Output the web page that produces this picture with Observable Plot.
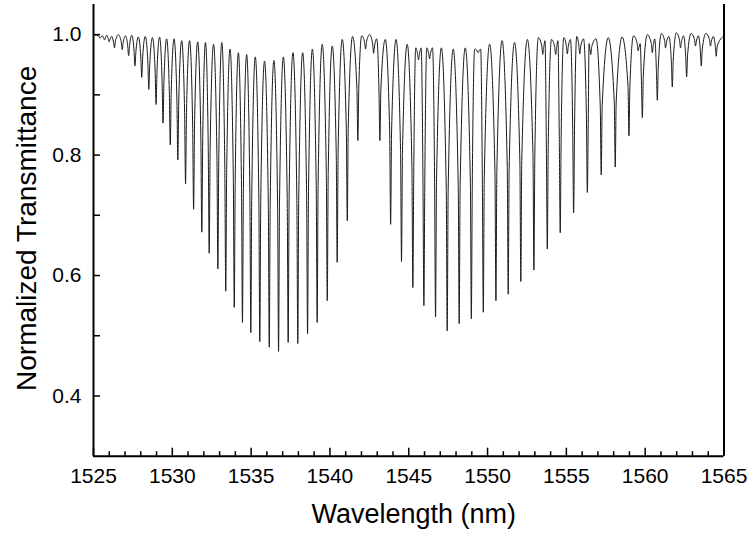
<!DOCTYPE html>
<html><head><meta charset="utf-8">
<script src="https://cdn.jsdelivr.net/npm/d3@7"></script>
<script src="https://cdn.jsdelivr.net/npm/@observablehq/plot@0.6"></script>
<style>body{margin:0;background:#fff}</style>
</head><body><div id="chart"></div>
<script>
// Absorption dip centres (nm) and their minimum transmittance
const dipNm = [1525.42, 1525.70, 1525.99, 1526.33, 1526.82, 1527.23, 1527.63, 1528.06, 1528.51, 1528.97,
  1529.41, 1529.87, 1530.35, 1530.84, 1531.35, 1531.87, 1532.34, 1532.89, 1533.39, 1533.93,
  1534.45, 1534.98, 1535.55, 1536.15, 1536.74, 1537.35, 1537.96, 1538.58, 1539.19, 1539.83,
  1540.46, 1541.10, 1541.77, 1542.26, 1542.77, 1543.17, 1543.85, 1544.54, 1545.26, 1545.62,
  1545.96, 1546.32, 1546.70, 1547.44, 1548.20, 1548.97, 1549.40, 1549.73, 1550.53, 1551.31,
  1552.11, 1552.94, 1553.50, 1553.79, 1554.32, 1554.61, 1555.06, 1555.46, 1555.85, 1556.33,
  1556.55, 1557.21, 1558.10, 1558.97, 1559.55, 1559.82, 1560.45, 1560.77, 1561.29, 1561.72,
  1562.24, 1562.63, 1563.19, 1563.56, 1564.14, 1564.51];
const dipMin = [0.994, 0.991, 0.988, 0.978, 0.975, 0.965, 0.948, 0.929, 0.909, 0.884,
  0.853, 0.817, 0.792, 0.752, 0.710, 0.672, 0.637, 0.611, 0.574, 0.547,
  0.522, 0.505, 0.490, 0.481, 0.474, 0.489, 0.487, 0.503, 0.522, 0.558,
  0.622, 0.691, 0.824, 0.976, 0.969, 0.824, 0.685, 0.623, 0.580, 0.958,
  0.550, 0.960, 0.531, 0.508, 0.520, 0.528, 0.970, 0.539, 0.558, 0.569,
  0.590, 0.609, 0.967, 0.644, 0.967, 0.671, 0.968, 0.704, 0.968, 0.738,
  0.967, 0.767, 0.780, 0.832, 0.973, 0.862, 0.970, 0.891, 0.978, 0.913,
  0.978, 0.930, 0.981, 0.948, 0.981, 0.964];
// Local maxima: left edge, between consecutive dips, right edge
const peakT = [1.000, 0.998, 0.999, 0.997, 1.000, 0.998, 0.999, 0.996, 0.997, 0.995,
  0.996, 0.993, 0.993, 0.990, 0.990, 0.988, 0.987, 0.984, 0.987, 0.976,
  0.970, 0.967, 0.963, 0.956, 0.957, 0.963, 0.970, 0.970, 0.976, 0.984,
  0.981, 0.992, 0.997, 0.998, 1.000, 0.993, 0.992, 0.992, 0.984, 0.978,
  0.978, 0.978, 0.978, 0.978, 0.976, 0.978, 0.976, 0.976, 0.984, 0.990,
  0.987, 0.992, 0.995, 0.990, 0.992, 0.990, 0.995, 0.992, 0.997, 0.993,
  0.985, 0.993, 0.995, 0.996, 0.998, 0.985, 1.000, 0.993, 1.002, 0.997,
  1.003, 0.998, 1.002, 0.998, 1.002, 0.997, 0.998];

const xMajorTicks = [1525, 1530, 1535, 1540, 1545, 1550, 1555, 1560, 1565];
const xMinorTicks = [1526, 1527, 1528, 1529, 1531, 1532, 1533, 1534, 1536, 1537, 1538, 1539,
  1541, 1542, 1543, 1544, 1546, 1547, 1548, 1549, 1551, 1552, 1553, 1554,
  1556, 1557, 1558, 1559, 1561, 1562, 1563, 1564];
const yTicks = [0.4, 0.6, 0.8, 1.0];
const yMinorTicks = [0.5, 0.7, 0.9];
const xLabel = "Wavelength (nm)";
const yLabel = "Normalized Transmittance";

// Build the line table: peak – shoulder – dip – shoulder – peak …
const HALF = 0.06;
const pts = [{x: 1525, y: peakT[0]}];
dipNm.forEach((c, i) => {
  const m = dipMin[i], pl = peakT[i], pr = peakT[i + 1];
  pts.push({x: c - HALF, y: m + 0.5 * (pl - m)});
  pts.push({x: c, y: m});
  pts.push({x: c + HALF, y: m + 0.5 * (pr - m)});
  const nx = i + 1 < dipNm.length ? (c + dipNm[i + 1]) / 2 : 1565;
  pts.push({x: nx, y: pr});
});

const W = 749, H = 533, mL = 93, mR = 25.5, mT = 4, mB = 77.3;
const plotW = W - mL - mR, plotH = H - mT - mB;

const chart = Plot.plot({
  width: W, height: H,
  marginLeft: mL, marginRight: mR, marginTop: mT, marginBottom: mB,
  x: {domain: [1525, 1565]},
  y: {domain: [0.3, 1.05]},
  style: {fontFamily: "'Liberation Sans', Arial, sans-serif", background: "#fff", color: "#000"},
  marks: [
    Plot.line(pts, {x: "x", y: "y", stroke: "#1a1a1a", strokeWidth: 1, curve: "monotone-x"}),
    Plot.ruleX(xMajorTicks, {x: d => d, insetTop: plotH - 8, stroke: "#000", strokeWidth: 1.5}),
    Plot.ruleX(xMinorTicks, {x: d => d, insetTop: plotH - 4.5, stroke: "#000", strokeWidth: 1.5}),
    Plot.ruleY(yTicks.concat(yMinorTicks), {y: d => d, insetRight: plotW - 7, stroke: "#000", strokeWidth: 1.5}),
    Plot.ruleX([1525, 1565], {x: d => d, stroke: "#000", strokeWidth: 2}),
    Plot.ruleY([0.3], {y: d => d, stroke: "#000", strokeWidth: 2}),
    Plot.axisX(xMajorTicks, {tickSize: 0, tickPadding: 12, fontSize: 21, label: null, tickFormat: d => String(d)}),
    Plot.axisY(yTicks, {tickSize: 0, tickPadding: 12, fontSize: 21, label: null, tickFormat: d3.format(".1f")}),
    Plot.text([xLabel], {text: d => d, frameAnchor: "bottom", dx: 5, dy: 67, fontSize: 27, fill: "#000"}),
    Plot.text([yLabel], {text: d => d, frameAnchor: "left", textAnchor: "middle", dx: -66, dy: -2, rotate: -90, fontSize: 28, fill: "#000"})
  ]
});
document.getElementById("chart").appendChild(chart);
</script>
</body></html>
